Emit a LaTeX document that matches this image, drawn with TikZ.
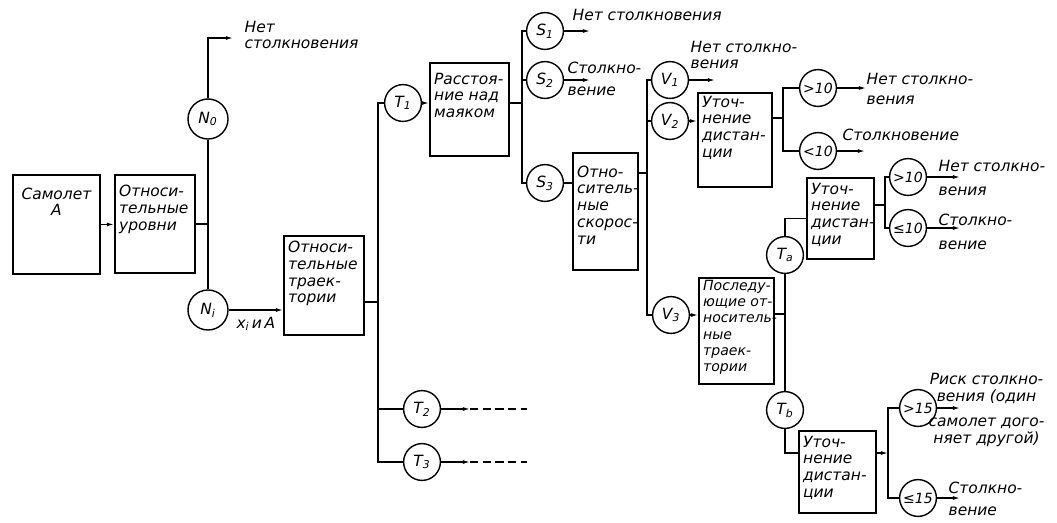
\documentclass[tikz,border=0pt]{standalone}
\usepackage{fontspec}
\setmainfont{DejaVu Sans}
\usetikzlibrary{arrows.meta}
\tikzset{every picture/.style={line width=0.9pt}}
\newcommand{\bxt}[4]{\parbox[c][#2][t]{#1}{\raggedright\leftskip=3pt\exhyphenpenalty=10000\hyphenpenalty=10000\vspace*{#3}#4}}

\begin{document}
\begin{tikzpicture}[x=0.025cm, y=-0.025cm,
    font=\itshape\fontsize{11}{12}\selectfont,
    block/.style={draw, line width=1.3pt, inner sep=0pt, anchor=north west},
    circ/.style={draw, circle, line width=1pt, inner sep=0pt, minimum size=0.92cm},
    num/.style={circ, font=\itshape\fontsize{10}{12}\selectfont},
    lbl/.style={align=left, anchor=west, inner sep=0pt},
    stub/.style={line width=1.2pt, dash pattern=on 6pt off 3pt},
    >={Latex[length=5pt,width=2.8pt]}]
    \useasboundingbox (0,0) rectangle (1057,522);

    % 方框
    \node[block] (pln) at (12,174) {\bxt{2.175cm}{2.475cm}{9pt}{\centering Самолет\\A}};
    \node[block] (lvl) at (114,174) {\bxt{2cm}{2.45cm}{7.5pt}{Относи-\\тельные\\уровни}};
    \node[block] (trj) at (283,235) {\bxt{2cm}{2.475cm}{3.5pt}{Относи-\\тельные\\траек-\\тории}};
    \node[block] (bcn) at (429,62) {\bxt{1.975cm}{2.325cm}{7pt}{Расстоя-\\ние над\\маяком}};
    \node[block] (spd) at (572,152) {\bxt{1.625cm}{2.925cm}{9pt}{Отно-\\ситель-\\ные\\скорос-\\ти}};
    \node[block] (dsa) at (697,92) {\bxt{1.85cm}{2.35cm}{2pt}{Уточ-\\нение\\дистан-\\ции}};
    \node[block] (dsb) at (806,177) {\bxt{1.675cm}{2.025cm}{3.5pt}{Уточ-\\нение\\дистан-\\ции}};
    \node[block] (nxt) at (698,277) {\bxt{1.875cm}{2.65cm}{1.5pt}{\fontsize{10}{11.6}\selectfont Последу-\\ющие от-\\носитель-\\ные\\траек-\\тории}};
    \node[block] (dsc) at (798,430) {\bxt{1.925cm}{2.05cm}{3.5pt}{Уточ-\\нение\\дистан-\\ции}};

    % 圆圈
    \node[circ, minimum size=1cm] (n0) at (208,119) {N\textsubscript{0}};
    \node[circ, minimum size=1cm] (ni) at (208,310) {N\textsubscript{i}};
    \node[circ] (t1) at (403,103) {T\textsubscript{1}};
    \node[circ] (t2) at (422,409) {T\textsubscript{2}};
    \node[circ] (t3) at (422,462) {T\textsubscript{3}};
    \node[circ] (s1) at (545,31) {S\textsubscript{1}};
    \node[circ] (s2) at (545,80) {S\textsubscript{2}};
    \node[circ] (s3) at (545,183) {S\textsubscript{3}};
    \node[circ] (v1) at (670,80) {V\textsubscript{1}};
    \node[circ] (v2) at (670,121) {V\textsubscript{2}};
    \node[circ] (v3) at (671,315) {V\textsubscript{3}};
    \node[circ] (ta) at (785,255) {T\textsubscript{a}};
    \node[circ] (tb) at (785,410) {T\textsubscript{b}};
    \node[num] (ga) at (818,88) {>10};
    \node[num] (la) at (818,151) {<10};
    \node[num] (gb) at (908,177) {>10};
    \node[num] (lb) at (908,228) {≤10};
    \node[num] (gc) at (918,408) {>15};
    \node[num] (lc) at (918,498) {≤15};

    % 左侧：高度与航迹
    \draw[->] (pln.east) -- (pln.east -| lvl.west);
    \draw (lvl.east) -- (lvl.east -| n0);
    \draw (n0.south) -- (ni.north);
    \coordinate (n0k) at (208,38);
    \coordinate (n0o) at (233,38);
    \draw[->] (n0.north) -- (n0k) -- (n0o);
    \node[lbl] (n0l) at (244,35) {Нет\\столкновения};
    \draw[->] (ni.east) -- (ni.east -| trj.west) node[midway, below=1pt] (xl) {x\textsubscript{i}\,и\,A};

    % 航迹分支
    \coordinate (jt) at (378,302);
    \draw (trj.east |- jt) -- (jt);
    \draw (t1.west) -| (jt) |- (t3.west);
    \draw (t2.west -| jt) -- (t2.west);
    \coordinate (t2o) at (470,409);
    \coordinate (t2d) at (527,409);
    \coordinate (t3o) at (470,462);
    \coordinate (t3d) at (527,462);
    \draw[->] (t2.east) -- (t2o);
    \draw[stub] (t2o) -- (t2d);
    \draw[->] (t3.east) -- (t3o);
    \draw[stub] (t3o) -- (t3d);

    % 信标上方距离
    \draw[->] (t1.east) -- (t1.east -| bcn.west);
    \coordinate (js) at (522,103);
    \draw (bcn.east |- js) -- (js);
    \draw (s1.west) -| (js) |- (s3.west);
    \draw (s2.west -| js) -- (s2.west);
    \coordinate (s1o) at (590,31);
    \coordinate (s2o) at (590,80);
    \draw[->] (s1.east) -- (s1o);
    \draw[->] (s2.east) -- (s2o);
    \node[lbl] (s1l) at (572,15) {Нет столкновения};
    \node[lbl] (s2l) at (567,79) {Столкно-\\[4pt]вение};
    \draw (s3.east) -- (s3.east -| spd.west);

    % 相对速度
    \coordinate (jv) at (647,173);
    \draw (spd.east |- jv) -- (jv);
    \draw (v1.west) -| (jv) |- (v3.west);
    \draw (v2.west -| jv) -- (v2.west);
    \coordinate (v1o) at (715,80);
    \draw[->] (v1.east) -- (v1o);
    \node[lbl] (v1l) at (690,55) {Нет столкно-\\вения};
    \draw[->] (v2.east) -- (v2.east -| dsa.west);
    \coordinate (jd) at (783,118);
    \draw (dsa.east |- jd) -- (jd);
    \draw (ga.west) -| (jd) |- (la.west);
    \coordinate (gao) at (866,88);
    \coordinate (lao) at (865,151);
    \draw[->] (ga.east) -- (gao);
    \draw[->] (la.east) -- (lao);
    \node[lbl] (gal) at (866,89) {Нет столкно-\\[2pt]вения};
    \node[lbl] (lal) at (842,135) {Столкновение};

    % 后续相对航迹
    \draw[->] (v3.east) -- (v3.east -| nxt.west);
    \draw (ta.south) -- (tb.north);
    \coordinate (jx) at (785,314);
    \draw (nxt.east |- jx) -- (jx);
    \draw (ta.north) |- (dsb.west);
    \coordinate (je) at (885,205);
    \draw (dsb.east |- je) -- (je);
    \draw (gb.west) -| (je) |- (lb.west);
    \coordinate (gbo) at (960,177);
    \coordinate (lbo) at (960,228);
    \draw[->] (gb.east) -- (gbo);
    \draw[->] (lb.east) -- (lbo);
    \node[lbl] (gbl) at (938,178) {Нет столкно-\\[5pt]вения};
    \node[lbl] (lbt) at (938,232) {Столкно-\\[5pt]вение};

    \coordinate (jb) at (785,453);
    \draw (tb.south) -- (jb) -- (jb -| dsc.west);
    \coordinate (jc) at (888,453);
    \draw[->] (dsc.east |- jc) -- (jc);
    \draw (gc.west) -| (jc) |- (lc.west);
    \coordinate (gco) at (960,408);
    \coordinate (lco) at (960,498);
    \draw[->] (gc.east) -- (gco);
    \draw[->] (lc.east) -- (lco);
    \node[lbl, align=center] (gcl) at (928,410) {Риск столкно-\\вения (один\\[6pt]самолет дого-\\няет другой)};
    \node[lbl] (lcl) at (948,499) {Столкно-\\[4pt]вение};
\end{tikzpicture}
\end{document}
